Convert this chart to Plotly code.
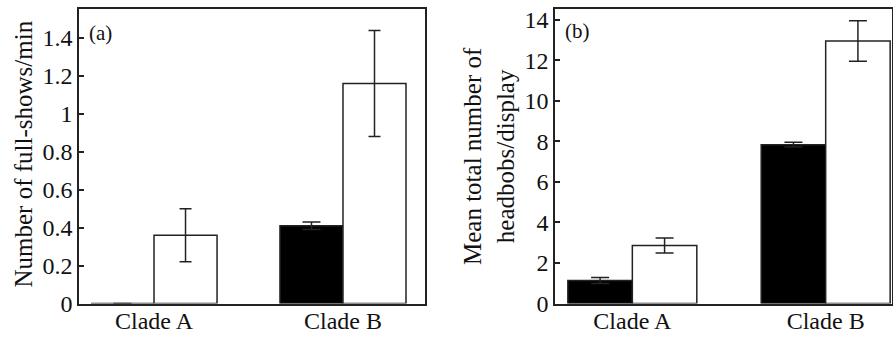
import plotly.graph_objects as go

categories = ["Clade A", "Clade B"]

# Panel (a): number of full-shows/min
a_black = [0, 0.41]
a_black_err = [None, 0.02]
a_white = [0.36, 1.16]
a_white_err = [0.14, 0.28]

# Panel (b): mean total number of headbobs/display
b_black = [1.13, 7.83]
b_black_err = [0.15, 0.12]
b_white = [2.86, 12.94]
b_white_err = [0.37, 1.0]

a_ticks = [0, 0.2, 0.4, 0.6, 0.8, 1.0, 1.2, 1.4]
a_ticktext = ["0", "0.2", "0.4", "0.6", "0.8", "1", "1.2", "1.4"]
b_ticks = [0, 2, 4, 6, 8, 10, 12, 14]

W, H = 893, 337
LC = "#222222"
FONT = "Liberation Serif"

def px_x(p):
    return p / W

def px_y(p):
    return (H - p) / H

fig = go.Figure()

def add_pair(black, black_err, white, white_err, xa, ya, wb, ww):
    fig.add_trace(go.Bar(
        x=categories, y=black, xaxis=xa, yaxis=ya,
        marker=dict(color="#000000", line=dict(color=LC, width=1.5)),
        error_y=dict(type="data", array=black_err, visible=True,
                     color=LC, thickness=1.5, width=wb),
        showlegend=False))
    fig.add_trace(go.Bar(
        x=categories, y=white, xaxis=xa, yaxis=ya,
        marker=dict(color="#ffffff", line=dict(color=LC, width=1.5)),
        error_y=dict(type="data", array=white_err, visible=True,
                     color=LC, thickness=1.5, width=ww),
        showlegend=False))

add_pair(a_black, a_black_err, a_white, a_white_err, "x", "y", 9, 6)
add_pair(b_black, b_black_err, b_white, b_white_err, "x2", "y2", 9, 9)

ydom = [px_y(303.5), px_y(9)]

xcommon = dict(showline=True, linecolor=LC, linewidth=1.5, mirror=True,
               ticks="", showgrid=False, zeroline=False, type="category",
               automargin=False, ticklabelstandoff=-5,
               tickfont=dict(family=FONT, size=24, color="#111111"))
ycommon = dict(showline=True, linecolor=LC, linewidth=1.5, mirror=True,
               ticks="inside", ticklen=5, tickwidth=1.5, tickcolor=LC,
               showgrid=False, zeroline=False, automargin=False,
               tickfont=dict(family=FONT, size=24, color="#111111"))

fig.update_layout(
    width=W, height=H,
    margin=dict(l=0, r=0, t=0, b=0),
    paper_bgcolor="white", plot_bgcolor="white",
    barmode="group", bargap=0.333, bargroupgap=0,
    xaxis=dict(domain=[px_x(79), px_x(425)], range=[-0.397, 1.434],
               anchor="y", **xcommon),
    yaxis=dict(domain=ydom, range=[0, 1.553], anchor="x",
               tickvals=a_ticks, ticktext=a_ticktext, **ycommon),
    xaxis2=dict(domain=[px_x(555), px_x(892)], range=[-0.40, 1.343],
                anchor="y2", **xcommon),
    yaxis2=dict(domain=ydom, range=[0, 14.52], anchor="x2",
                tickvals=b_ticks, **ycommon),
    annotations=[
        dict(text="Number of full-shows/min", x=px_x(23), y=px_y(154.5),
             xref="paper", yref="paper", textangle=-90, showarrow=False,
             xanchor="center", yanchor="middle",
             font=dict(family=FONT, size=25, color="#111111")),
        dict(text="Mean total number of<br>headbobs/display", x=px_x(489), y=px_y(156),
             xref="paper", yref="paper", textangle=-90, showarrow=False,
             xanchor="center", yanchor="middle",
             font=dict(family=FONT, size=25, color="#111111")),
        dict(text="(a)", x=px_x(87), y=px_y(33), xref="paper", yref="paper",
             showarrow=False, xanchor="left", yanchor="middle",
             font=dict(family=FONT, size=21, color="#111111")),
        dict(text="(b)", x=px_x(563), y=px_y(31), xref="paper", yref="paper",
             showarrow=False, xanchor="left", yanchor="middle",
             font=dict(family=FONT, size=21, color="#111111")),
    ],
)

fig.write_html(
    "out.html",
    config={"displayModeBar": False},
    post_script="document.body.style.margin='0';document.body.style.overflow='hidden';",
)
